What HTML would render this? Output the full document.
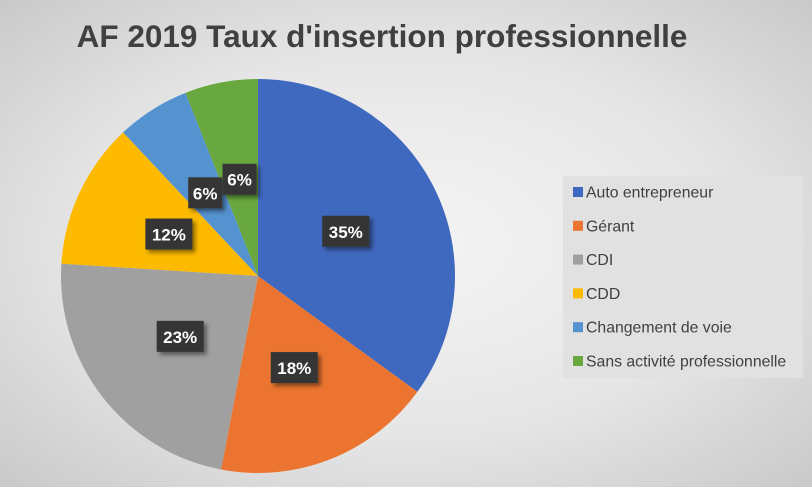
<!DOCTYPE html>
<html><head><meta charset="utf-8"><style>
body{margin:0;width:812px;height:487px;overflow:hidden}
#c{position:relative;width:812px;height:487px;background:radial-gradient(ellipse at 50% 50%,#f4f4f4 0%,#e6e6e6 55%,#c9c9c9 100%);font-family:"Liberation Sans",sans-serif}
</style></head><body>
<div id="c">
<svg width="812" height="487">
<defs><filter id="sh" x="-30%" y="-30%" width="160%" height="160%"><feDropShadow dx="3" dy="3" stdDeviation="2" flood-color="#000" flood-opacity="0.45"/></filter></defs>
<text x="382" y="47" text-anchor="middle" font-size="31.5" font-weight="bold" fill="#404040">AF 2019 Taux d'insertion professionnelle</text>
<g id="slices"></g><g id="labels"></g>
<rect x="563" y="176" width="240" height="202" fill="#e1e1e1"/>
<g id="legend"></g>
</svg>
</div>
<script>
const categories=["Auto entrepreneur","Gérant","CDI","CDD","Changement de voie","Sans activité professionnelle"];
const values=[35,18,23,12,6,6];
const colors=["#3F68BF","#EB7530","#A0A0A0","#FDBA00","#5593D0","#69A73F"];
const NS="http://www.w3.org/2000/svg";
const cx=258,cy=276,r=197;
const total=values.reduce((a,b)=>a+b,0);
function pt(a,rr){return [cx+rr*Math.sin(a),cy-rr*Math.cos(a)];}
let acc=0;
const sg=document.getElementById('slices'),lg=document.getElementById('labels'),leg=document.getElementById('legend');
values.forEach((v,i)=>{
 const a0=acc/total*2*Math.PI;acc+=v;const a1=acc/total*2*Math.PI;
 const p0=pt(a0,r),p1=pt(a1,r);
 const p=document.createElementNS(NS,'path');
 p.setAttribute('d',`M${cx},${cy}L${p0[0]},${p0[1]}A${r},${r} 0 ${a1-a0>Math.PI?1:0} 1 ${p1[0]},${p1[1]}Z`);
 p.setAttribute('fill',colors[i]);
 
 
 sg.appendChild(p);
 const m=pt((a0+a1)/2,r*0.5);
 const txt=Math.round(v/total*100)+'%';
 const w=txt.length>2?47:34;
 const g=document.createElementNS(NS,'g');
 
 
 const rc=document.createElementNS(NS,'rect');
 rc.setAttribute('x',m[0]-w/2);rc.setAttribute('y',m[1]-15.5);rc.setAttribute('width',w);rc.setAttribute('height',31);
 rc.setAttribute('fill','#363636');rc.setAttribute('filter','url(#sh)');
 g.appendChild(rc);
 const t=document.createElementNS(NS,'text');
 t.setAttribute('x',m[0]);t.setAttribute('y',m[1]+6.5);t.setAttribute('text-anchor','middle');
 t.setAttribute('font-size','17');t.setAttribute('font-weight','bold');t.setAttribute('fill','#fff');
 t.textContent=txt;g.appendChild(t);lg.appendChild(g);
 const le=document.createElementNS(NS,'g');
 
 
 const y=192+i*33.8;
 const sq=document.createElementNS(NS,'rect');
 sq.setAttribute('x',573);sq.setAttribute('y',y-5);sq.setAttribute('width',10);sq.setAttribute('height',10);sq.setAttribute('fill',colors[i]);
 le.appendChild(sq);
 const lt=document.createElementNS(NS,'text');
 lt.setAttribute('x',586);lt.setAttribute('y',y+5.5);lt.setAttribute('font-size','15.8');lt.setAttribute('fill','#404040');
 lt.textContent=categories[i];le.appendChild(lt);leg.appendChild(le);
});
</script>
</body></html>
